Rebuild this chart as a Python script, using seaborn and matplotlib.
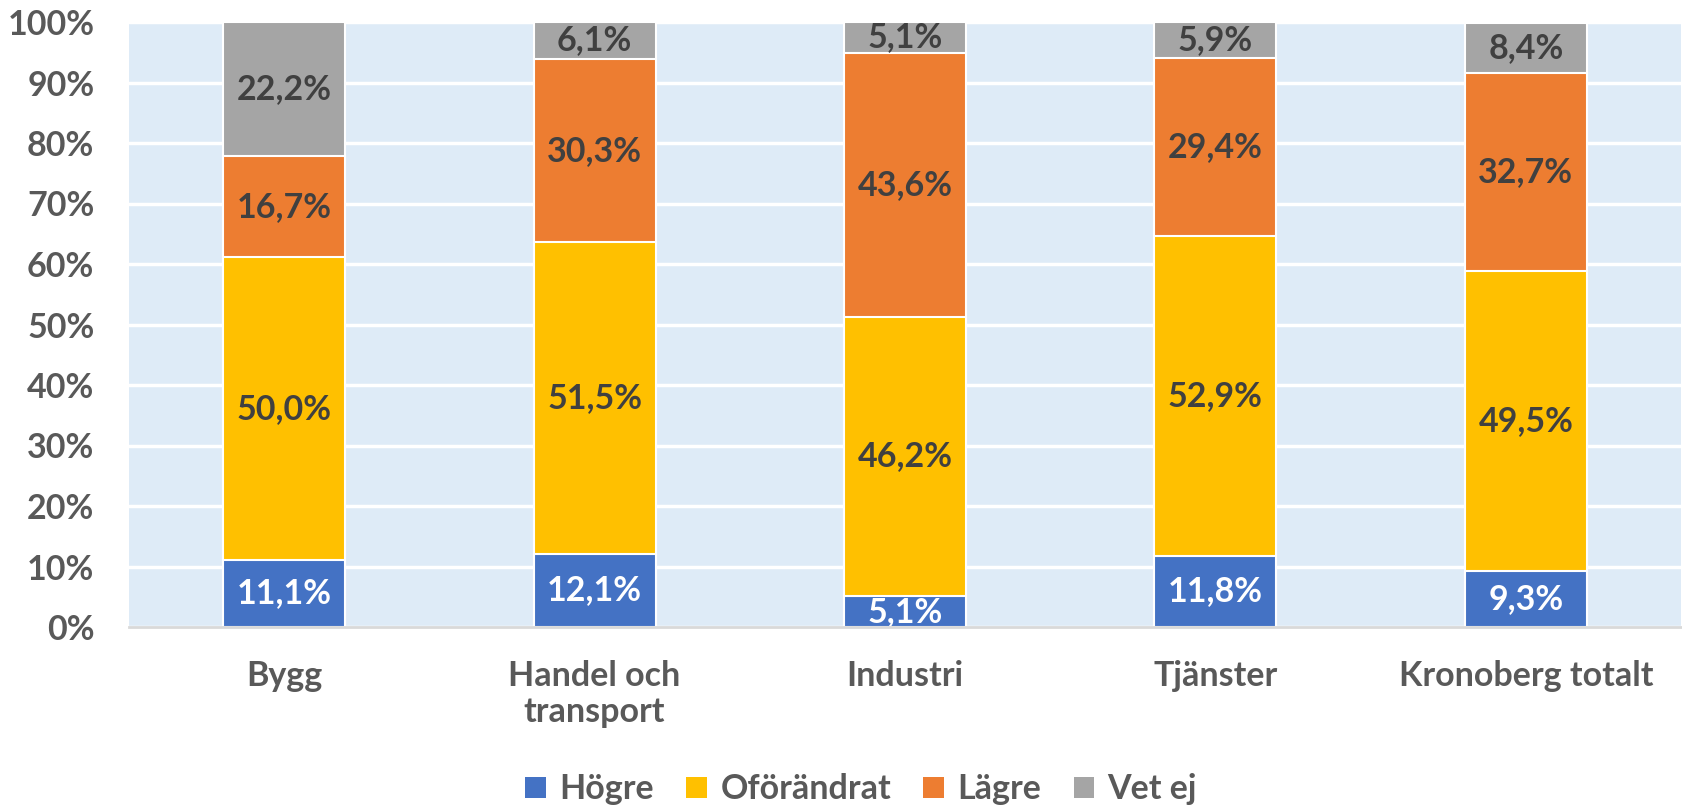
import matplotlib
matplotlib.use("Agg")
import matplotlib.pyplot as plt
import seaborn as sns
import numpy as np
import pandas as pd
from matplotlib.patches import Patch
from matplotlib.ticker import FixedLocator

categories = ["Bygg", "Handel och\ntransport", "Industri", "Tjänster", "Kronoberg totalt"]
series_names = ["Högre", "Oförändrat", "Lägre", "Vet ej"]
hogre = [11.1, 12.1, 5.1, 11.8, 9.3]
oforandrat = [50.0, 51.5, 46.2, 52.9, 49.5]
lagre = [16.7, 30.3, 43.6, 29.4, 32.7]
vet_ej = [22.2, 6.1, 5.1, 5.9, 8.4]
y_ticks = [0, 10, 20, 30, 40, 50, 60, 70, 80, 90, 100]
y_tick_labels = ["0%", "10%", "20%", "30%", "40%", "50%", "60%", "70%", "80%", "90%", "100%"]

colors = ["#4472C4", "#FFC000", "#ED7D31", "#A5A5A5"]
label_colors = ["white", "#404040", "#404040", "#404040"]

sns.set_theme(style="white")
plt.rcParams["font.family"] = ["Lato", "DejaVu Sans"]
plt.rcParams["font.weight"] = "bold"

FS = 24.5

fig = plt.figure(figsize=(16.82, 8.07), dpi=100)
ax = fig.add_axes([129/1682, 180/807, 1552/1682, 605/807])
ax.set_facecolor("#DEEBF7")

vals = np.array([hogre, oforandrat, lagre, vet_ej])
cum = np.cumsum(vals, axis=0)

# draw cumulative bars from top series down so stacks appear
for i in range(3, -1, -1):
    df = pd.DataFrame({"cat": categories, "val": cum[i]})
    sns.barplot(data=df, x="cat", y="val", color=colors[i], width=0.393,
                edgecolor="white", linewidth=1.5, ax=ax, saturation=1, zorder=3)

# labels
for i in range(4):
    for j in range(len(categories)):
        v = vals[i][j]
        center = cum[i][j] - v / 2
        ax.text(j, center, f"{v:.1f}%".replace(".", ","), ha="center", va="center",
                fontsize=FS, fontweight="bold", color=label_colors[i], zorder=5)

ax.set_ylim(0, 100)
ax.set_xlim(-0.5, len(categories) - 0.5)
ax.yaxis.set_major_locator(FixedLocator(y_ticks))
ax.set_yticklabels(y_tick_labels)
ax.grid(axis="y", color="white", linewidth=2.5, zorder=0)
ax.set_axisbelow(True)
ax.tick_params(axis="y", length=0, pad=25, labelsize=FS, labelcolor="#595959")
ax.tick_params(axis="x", length=0, pad=24, labelsize=FS, labelcolor="#595959")
for lbl in ax.get_xticklabels() + ax.get_yticklabels():
    lbl.set_fontweight("bold")
for lbl in ax.get_xticklabels():
    lbl.set_linespacing(1.15)
ax.set_xlabel("")
ax.set_ylabel("")
for s in ["top", "right", "left"]:
    ax.spines[s].set_visible(False)
ax.spines["bottom"].set_color("#D9D9D9")
ax.spines["bottom"].set_linewidth(2)
ax.spines["bottom"].set_zorder(6)

handles = [Patch(facecolor=c, edgecolor="none") for c in colors]
fig.legend(handles, series_names, loc="lower center", bbox_to_anchor=(0.512, -0.036),
           ncol=4, frameon=False, prop={"size": FS, "weight": "bold"},
           handlelength=0.6, handleheight=0.6, handletextpad=0.4, columnspacing=0.95,
           labelcolor="#595959")

fig.savefig("out.png", dpi=100)
